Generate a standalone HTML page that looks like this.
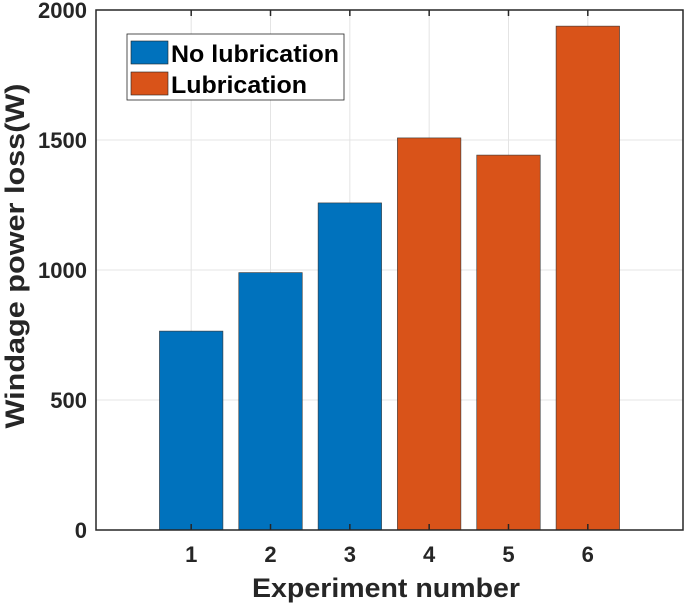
<!DOCTYPE html>
<html><head><meta charset="utf-8"><style>
body{margin:0;background:#fff;}
svg{display:block;font-family:"Liberation Sans",Arial,sans-serif;font-weight:bold;}
</style></head><body>
<svg id="chart" width="685" height="606" viewBox="0 0 685 606" xmlns="http://www.w3.org/2000/svg">
<g id="grid"></g>
<g id="bars"></g>
<g id="axes"></g>
<text x="386" y="597" text-anchor="middle" font-size="27" fill="#262626" textLength="268" lengthAdjust="spacingAndGlyphs">Experiment number</text>
<text transform="translate(24,256) rotate(-90)" text-anchor="middle" font-size="27" fill="#262626" textLength="345" lengthAdjust="spacingAndGlyphs">Windage power loss(W)</text>
<g>
<rect x="127" y="34" width="217" height="66" fill="#fff" stroke="#262626" stroke-width="0.8"/>
<rect x="131" y="41" width="37" height="23" fill="#0072BD" stroke="#222" stroke-width="0.6"/>
<text x="171" y="62" font-size="24" fill="#000" textLength="168" lengthAdjust="spacingAndGlyphs">No lubrication</text>
<rect x="131" y="72" width="37" height="23" fill="#D95319" stroke="#222" stroke-width="0.6"/>
<text x="171" y="93" font-size="24" fill="#000" textLength="136" lengthAdjust="spacingAndGlyphs">Lubrication</text>
</g>
</svg>
<script>
const categories = [1, 2, 3, 4, 5, 6];
const values = [765, 990, 1258, 1508, 1442, 1938];
const seriesOf = ['No lubrication','No lubrication','No lubrication','Lubrication','Lubrication','Lubrication'];
const yTicks = [0, 500, 1000, 1500, 2000];
const xTickLabels = ['1','2','3','4','5','6'];

const L=96,R=683,T=10,B=530, xmin=-0.2,xmax=7.2,ymax=2000;
const xs=v=>L+(v-xmin)/(xmax-xmin)*(R-L);
const ys=v=>B-v/ymax*(B-T);
const NS='http://www.w3.org/2000/svg';
function mk(tag,attrs,parent){const e=document.createElementNS(NS,tag);for(const k in attrs)e.setAttribute(k,attrs[k]);parent.appendChild(e);return e;}
const grid=document.getElementById('grid'),bars=document.getElementById('bars'),axes=document.getElementById('axes');
yTicks.forEach(t=>{
  const g=mk('line',{x1:L,x2:R,y1:ys(t),y2:ys(t),stroke:'#e4e4e4','stroke-width':1},grid);
  
  
  const tx=mk('text',{x:L-9,y:ys(t)+8,'text-anchor':'end','font-size':22,fill:'#262626'},axes);
  tx.textContent=t;
  
  
});
categories.forEach((c,i)=>{
  const g=mk('line',{x1:xs(c),x2:xs(c),y1:T,y2:B,stroke:'#e4e4e4','stroke-width':1},grid);
  
  
  const w=0.8*(xs(1)-xs(0));
  const b=mk('rect',{x:xs(c)-w/2,y:ys(values[i]),width:w,height:B-ys(values[i]),fill:seriesOf[i]==='Lubrication'?'#D95319':'#0072BD',stroke:'#333','stroke-width':0.6},bars);
  
  
  mk('line',{x1:xs(c),x2:xs(c),y1:B,y2:B-6,stroke:'#262626','stroke-width':1.5},axes);
  mk('line',{x1:xs(c),x2:xs(c),y1:T,y2:T+6,stroke:'#262626','stroke-width':1.5},axes);
  const tx=mk('text',{x:xs(c),y:B+32,'text-anchor':'middle','font-size':22,fill:'#262626'},axes);
  tx.textContent=xTickLabels[i];
  
  
});
const box=mk('rect',{x:L,y:T,width:R-L,height:B-T,fill:'none',stroke:'#262626','stroke-width':1.5},axes);


</script>
</body></html>
